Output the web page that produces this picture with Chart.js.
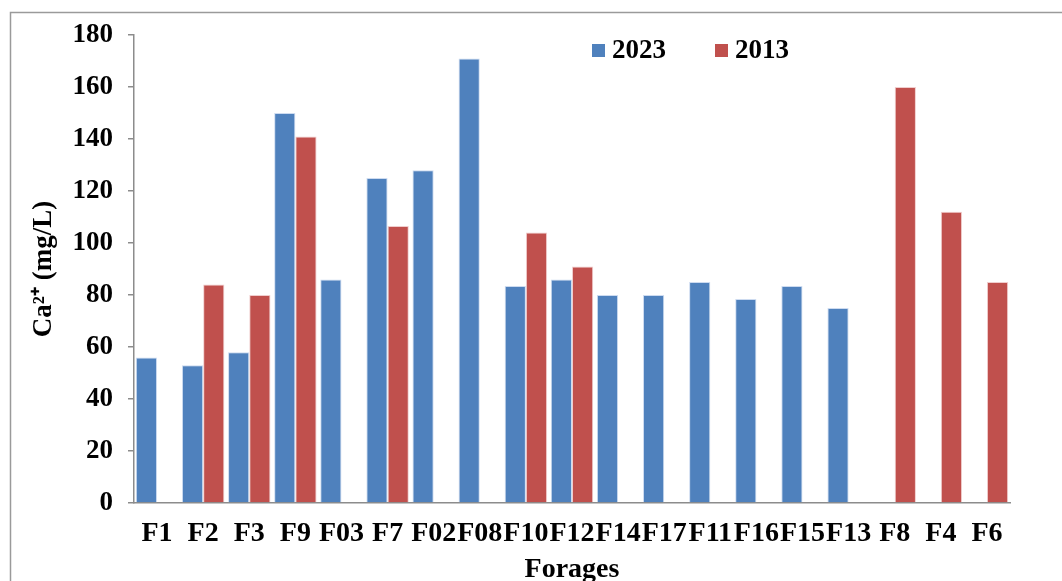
<!DOCTYPE html>
<html>
<head>
<meta charset="utf-8">
<script src="https://cdn.jsdelivr.net/npm/chart.js@4.4.0/dist/chart.umd.min.js"></script>
<style>
  html, body { margin: 0; padding: 0; background: #fff; overflow: hidden; }
  #wrap { width: 1062px; height: 581px; position: relative; }
</style>
</head>
<body>
<div id="wrap"><canvas id="chart"></canvas></div>
<script>
const forages = ["F1", "F2", "F3", "F9", "F03", "F7", "F02", "F08", "F10", "F12",
  "F14", "F17", "F11", "F16", "F15", "F13", "F8", "F4", "F6"];
const ca2023 = [56, 53, 58, 150, 86, 125, 128, 171, 83.5, 86,
  80, 80, 85, 78.5, 83.5, 75, null, null, null];
const ca2013 = [null, 84, 80, 141, null, 106.5, null, null, 104, 91,
  null, null, null, null, null, null, 160, 112, 85];
const yTicks = [0, 20, 40, 60, 80, 100, 120, 140, 160, 180];

const serif = "'Liberation Serif', 'Times New Roman', serif";

// outer frame of the original figure (cut on the right and bottom)
const framePlugin = {
  id: "frame",
  beforeDraw(chart) {
    const ctx = chart.ctx;
    ctx.save();
    ctx.fillStyle = "#fff";
    ctx.fillRect(0, 0, chart.width, chart.height);
    ctx.strokeStyle = "#9a9a9a";
    ctx.lineWidth = 1.5;
    ctx.strokeRect(10.5, 12.5, 1200, 700);
    ctx.restore();
  }
};

// legend drawn inside the plot, next to the top
const legendPlugin = {
  id: "insideLegend",
  afterDraw(chart) {
    const ctx = chart.ctx;
    const xs = [592, 715];
    ctx.save();
    ctx.font = "bold 27px " + serif;
    ctx.textBaseline = "middle";
    chart.data.datasets.forEach((ds, i) => {
      ctx.fillStyle = ds.backgroundColor;
      ctx.fillRect(xs[i], 44, 13, 13);
      ctx.fillStyle = "#000";
      ctx.fillText(ds.label, xs[i] + 20, 51);
    });
    ctx.restore();
  }
};

new Chart(document.getElementById("chart"), {
  type: "bar",
  data: {
    labels: forages,
    datasets: [
      {
        label: "2023",
        data: ca2023,
        backgroundColor: "#4F81BD",
        borderColor: "rgba(200,215,238,0.9)",
        borderWidth: 1
      },
      {
        label: "2013",
        data: ca2013,
        backgroundColor: "#C0504D",
        borderColor: "rgba(238,200,200,0.9)",
        borderWidth: 1
      }
    ]
  },
  options: {
    responsive: true,
    maintainAspectRatio: false,
    animation: false,
    datasets: {
      bar: { categoryPercentage: 0.92, barPercentage: 1 }
    },
    layout: { padding: { left: 0, right: 52, top: 35, bottom: 0 } },
    plugins: {
      legend: { display: false },
      tooltip: { enabled: false }
    },
    scales: {
      x: {
        grid: { display: false, drawTicks: false },
        border: { display: true, color: "#8c8c8c", width: 1.5 },
        ticks: {
          color: "#000",
          font: { family: serif, size: 28, weight: "bold" },
          padding: 14,
          maxRotation: 0,
          autoSkip: false
        },
        title: {
          display: true,
          text: "Forages",
          color: "#000",
          font: { family: serif, size: 28, weight: "bold", lineHeight: 1 },
          padding: { top: 0, bottom: -3 }
        },
        afterFit(scale) { scale.height = 78; }
      },
      y: {
        min: 0,
        max: 180,
        afterBuildTicks(scale) { scale.ticks = yTicks.map(v => ({ value: v })); },
        grid: { drawOnChartArea: false, drawTicks: true, tickLength: 6, color: "#8c8c8c", lineWidth: 1.5 },
        border: { display: true, color: "#8c8c8c", width: 1.5 },
        ticks: {
          color: "#000",
          font: { family: serif, size: 27, weight: "bold" },
          padding: 15
        },
        title: {
          display: true,
          text: "Ca²⁺ (mg/L)",
          color: "#000",
          font: { family: serif, size: 27, weight: "bold", lineHeight: 1.2 },
          padding: { top: 28, bottom: 0 }
        },
        afterFit(scale) { scale.width = 134; }
      }
    }
  },
  plugins: [framePlugin, legendPlugin]
});
</script>
</body>
</html>
